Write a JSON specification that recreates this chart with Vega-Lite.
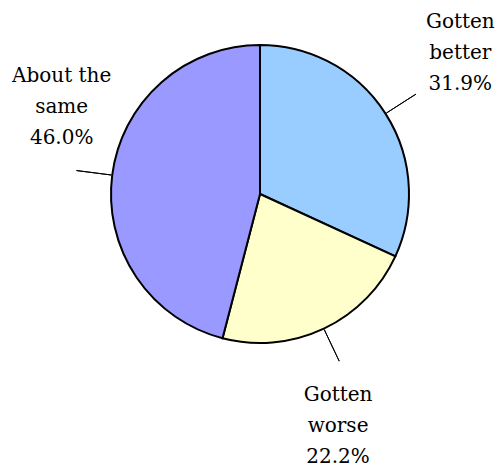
{
  "$schema": "https://vega.github.io/schema/vega-lite/v6.json",
  "width": 520,
  "height": 388,
  "padding": {"left": 0, "top": 0, "right": 0, "bottom": 80},
  "autosize": {"type": "none"},
  "background": "white",
  "config": {"view": {"stroke": null}},
  "data": {
    "values": [
      {"category": "Gotten better", "value": 31.9, "k": 1, "label": "Gotten\nbetter\n31.9%"},
      {"category": "Gotten worse", "value": 22.2, "k": 2, "label": "Gotten\nworse\n22.2%"},
      {"category": "About the same", "value": 46.0, "k": 3, "label": "About the\nsame\n46.0%"}
    ]
  },
  "encoding": {
    "theta": {"field": "value", "type": "quantitative", "stack": true},
    "order": {"field": "k", "type": "quantitative"}
  },
  "layer": [
    {
      "mark": {"type": "arc", "outerRadius": 149, "stroke": "black", "strokeWidth": 2},
      "encoding": {
        "color": {
          "field": "category",
          "type": "nominal",
          "scale": {"domain": ["Gotten better", "Gotten worse", "About the same"], "range": ["#99CCFF", "#FFFFCC", "#9999FF"]},
          "legend": null
        }
      }
    },
    {
      "mark": {"type": "arc", "innerRadius": 150, "outerRadius": 185, "padAngle": 3, "fill": null, "stroke": "black", "strokeWidth": 1}
    },
    {
      "mark": {"type": "text", "radius": 245, "dx": -6, "dy": -40, "font": "DejaVu Serif", "fontSize": 20, "lineHeight": 31, "lineBreak": "\n", "align": "center", "baseline": "middle", "color": "black"},
      "encoding": {"text": {"condition": {"test": "datum.k == 1", "field": "label"}, "value": ""}}
    },
    {
      "mark": {"type": "text", "radius": 243, "dx": -26, "dy": -19, "font": "DejaVu Serif", "fontSize": 20, "lineHeight": 31, "lineBreak": "\n", "align": "center", "baseline": "middle", "color": "black"},
      "encoding": {"text": {"condition": {"test": "datum.k == 2", "field": "label"}, "value": ""}}
    },
    {
      "mark": {"type": "text", "radius": 208, "dx": 8, "dy": -92, "font": "DejaVu Serif", "fontSize": 20, "lineHeight": 31, "lineBreak": "\n", "align": "center", "baseline": "middle", "color": "black"},
      "encoding": {"text": {"condition": {"test": "datum.k == 3", "field": "label"}, "value": ""}}
    }
  ]
}
